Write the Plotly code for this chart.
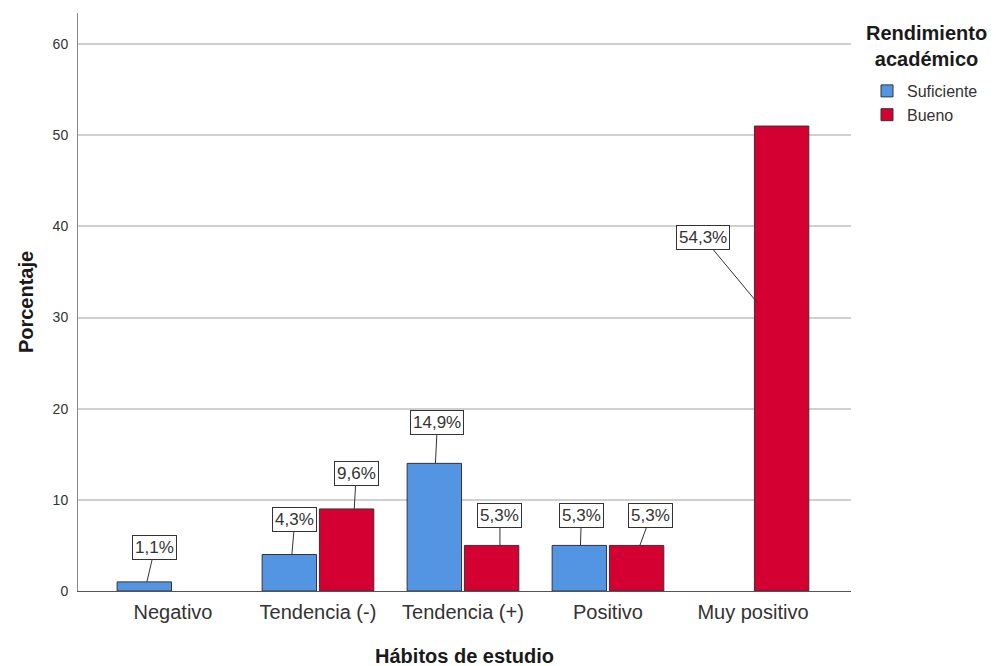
import plotly.graph_objects as go

categories = ["Negativo", "Tendencia (-)", "Tendencia (+)", "Positivo", "Muy positivo"]
suficiente = [1, 4, 14, 5, None]
bueno = [None, 9, 5, 5, 51]
suf_labels = ["1,1%", "4,3%", "14,9%", "5,3%", None]
bue_labels = [None, "9,6%", "5,3%", "5,3%", "54,3%"]
y_ticks = [0, 10, 20, 30, 40, 50, 60]

BLUE = "#5495E3"
RED = "#D50032"
FONT = "Arial, Liberation Sans, sans-serif"

# page offset: the html body adds an 8px margin
OFF = 8
PL, PR, PT, PB = 78, 851, 13, 591  # plot area in page pixels
W, H = 996, 666


def px_x(p):
    return (p - PL) / (PR - PL)


def px_y(p):
    return (PB - p) / (PB - PT)


fig = go.Figure()
fig.add_trace(go.Bar(x=list(range(len(categories))), y=suficiente, name="Suficiente",
                     marker=dict(color=BLUE, line=dict(color="#333333", width=1))))
fig.add_trace(go.Bar(x=list(range(len(categories))), y=bueno, name="Bueno",
                     marker=dict(color=RED, line=dict(color="#333333", width=1))))

# label placements (tip offset within category, text offset in px)
suf_place = [(-0.18, 8, -34), (-0.18, 3, -35), (-0.19, 2, -41), (-0.19, 1, -30), None]
bue_place = [None, (0.25, 2, -35), (0.255, 0, -30), (0.22, 11, -30), (0.03, -54, -65)]

annotations = []
for i, lab in enumerate(suf_labels):
    if lab is None:
        continue
    dx, ax, ay = suf_place[i]
    annotations.append(dict(x=i + dx, y=suficiente[i], text=lab, ax=ax, ay=ay))
for i, lab in enumerate(bue_labels):
    if lab is None:
        continue
    dx, ax, ay = bue_place[i]
    yv = bueno[i] if i != 4 else bueno[i] * 0.62
    annotations.append(dict(x=i + dx, y=yv, text=lab, ax=ax, ay=ay))

for a in annotations:
    a.update(xref="x", yref="y", showarrow=True, arrowhead=0, arrowwidth=1,
             arrowcolor="#333333", bordercolor="#333333", borderwidth=1,
             borderpad=2, bgcolor="white", font=dict(family=FONT, size=17, color="#333333"))

annotations.append(dict(xref="paper", yref="paper", x=px_x(926), y=px_y(46),
                        xanchor="center", yanchor="middle", showarrow=False,
                        text="<b>Rendimiento<br>académico</b>",
                        font=dict(family=FONT, size=20, color="#1a1a1a")))

fig.update_layout(
    width=W, height=H,
    margin=dict(l=PL - OFF, r=W - (PR - OFF), t=PT - OFF, b=H - (PB - OFF)),
    paper_bgcolor="white", plot_bgcolor="white",
    barmode="group", bargap=0.21, bargroupgap=0.05,
    font=dict(family=FONT, color="#333333"),
    showlegend=True,
    legend=dict(x=px_x(867), y=px_y(74), xanchor="left", yanchor="top",
                font=dict(family=FONT, size=16, color="#333333"), itemwidth=30,
                bgcolor="rgba(0,0,0,0)"),
    annotations=annotations,
)
fig.update_xaxes(
    range=[-0.655, 4.676], tickmode="array", tickvals=list(range(len(categories))),
    ticktext=categories, showgrid=False, showline=True, linecolor="#555555", linewidth=1,
    ticks="", tickfont=dict(family=FONT, size=20, color="#333333"), ticklabelstandoff=3,
    title=dict(text="<b>Hábitos de estudio</b>", font=dict(family=FONT, size=20, color="#1a1a1a"), standoff=26),
    zeroline=False,
)
fig.update_yaxes(
    range=[0, 63.4], tickmode="array", tickvals=y_ticks, ticktext=[str(v) for v in y_ticks],
    showgrid=True, gridcolor="#d0d0d0", gridwidth=1.5, showline=True, linecolor="#888888", linewidth=1,
    ticks="", tickfont=dict(family=FONT, size=14, color="#333333"), ticklabelstandoff=6,
    title=dict(text="<b>Porcentaje</b>", font=dict(family=FONT, size=20, color="#1a1a1a"), standoff=13),
    zeroline=True, zerolinecolor="#555555", zerolinewidth=1,
)

fig.write_html("out.html")
